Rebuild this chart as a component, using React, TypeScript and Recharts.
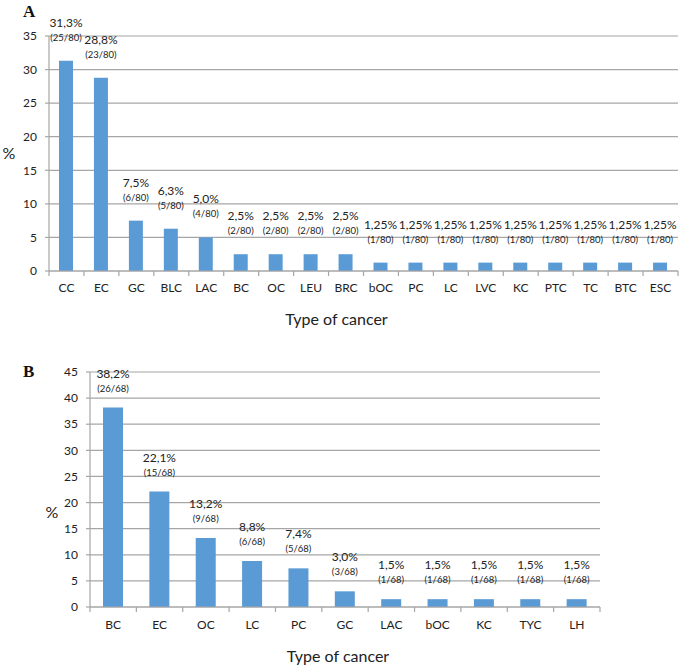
import React from 'react';
import { BarChart, Bar, XAxis, YAxis, CartesianGrid, LabelList } from 'recharts';

const catsA = ['CC', 'EC', 'GC', 'BLC', 'LAC', 'BC', 'OC', 'LEU', 'BRC', 'bOC', 'PC', 'LC', 'LVC', 'KC', 'PTC', 'TC', 'BTC', 'ESC'];
const valsA = [31.3, 28.8, 7.5, 6.3, 5.0, 2.5, 2.5, 2.5, 2.5, 1.25, 1.25, 1.25, 1.25, 1.25, 1.25, 1.25, 1.25, 1.25];
const pctA = ['31,3%', '28,8%', '7,5%', '6,3%', '5,0%', '2,5%', '2,5%', '2,5%', '2,5%', '1,25%', '1,25%', '1,25%', '1,25%', '1,25%', '1,25%', '1,25%', '1,25%', '1,25%'];
const cntA = ['(25/80)', '(23/80)', '(6/80)', '(5/80)', '(4/80)', '(2/80)', '(2/80)', '(2/80)', '(2/80)', '(1/80)', '(1/80)', '(1/80)', '(1/80)', '(1/80)', '(1/80)', '(1/80)', '(1/80)', '(1/80)'];
const ticksA = [0, 5, 10, 15, 20, 25, 30, 35];

const catsB = ['BC', 'EC', 'OC', 'LC', 'PC', 'GC', 'LAC', 'bOC', 'KC', 'TYC', 'LH'];
const valsB = [38.2, 22.1, 13.2, 8.8, 7.4, 3.0, 1.5, 1.5, 1.5, 1.5, 1.5];
const pctB = ['38,2%', '22,1%', '13,2%', '8,8%', '7,4%', '3,0%', '1,5%', '1,5%', '1,5%', '1,5%', '1,5%'];
const cntB = ['(26/68)', '(15/68)', '(9/68)', '(6/68)', '(5/68)', '(3/68)', '(1/68)', '(1/68)', '(1/68)', '(1/68)', '(1/68)'];
const ticksB = [0, 5, 10, 15, 20, 25, 30, 35, 40, 45];

const rowsA = catsA.map((c, i) => ({ cat: c, v: valsA[i], pct: pctA[i], cnt: cntA[i] }));
const rowsB = catsB.map((c, i) => ({ cat: c, v: valsB[i], pct: pctB[i], cnt: cntB[i] }));

const FONT = 'Lato, "Open Sans", sans-serif';
const TXT = '#222';
const GRID = '#a6a6a6';
const BAR = '#5B9BD5';

function makeTick(cats: string[], band: number, dyText: number) {
  return (props: any) => {
    const { x, y, payload, index } = props;
    const half = payload && typeof payload.offset === 'number' && payload.offset > 0 ? payload.offset : band / 2;
    const isLast = index === cats.length - 1 || (payload && payload.value === cats[cats.length - 1]);
    return (
      <g>
        <line x1={x - half} x2={x - half} y1={y} y2={y + 5} stroke={GRID} strokeWidth={1.2} />
        {isLast ? <line x1={x + half} x2={x + half} y1={y} y2={y + 5} stroke={GRID} strokeWidth={1.2} /> : null}
        <text x={x} y={y + dyText} textAnchor="middle" fontSize={12} fontFamily={FONT} fill={TXT}>
          {payload.value}
        </text>
      </g>
    );
  };
}

function makeLabel(dy: number, size: number) {
  return (p: any) => (
    <text x={Number(p.x) + Number(p.width) / 2} y={Number(p.y) - dy} textAnchor="middle" fontSize={size} fontFamily={FONT} fill={TXT}>
      {p.value}
    </text>
  );
}

export default function App() {
  const wA = 685, hA = 335;
  const wB = 685, hB = 332;
  const bandA = (wA - 49 - 7) / catsA.length;
  const bandB = (wB - 90 - 85) / catsB.length;
  return (
    <div style={{ position: 'absolute', left: 0, top: 0, width: 685, height: 672, background: '#fff' }}>
      <div style={{ position: 'absolute', left: 0, top: 0 }}>
        <BarChart width={wA} height={hA} data={rowsA} margin={{ top: 36, right: 7, left: 0, bottom: 0 }}>
          <CartesianGrid vertical={false} stroke={GRID} strokeWidth={1.2} />
          <XAxis
            dataKey="cat"
            height={64}
            axisLine={{ stroke: GRID, strokeWidth: 1.2 }}
            tickLine={false}
            tickSize={0}
            tickMargin={0}
            interval={0}
            tick={makeTick(catsA, bandA, 21)}
            label={{
              content: (p: any) => (
                <text x={p.viewBox.x + p.viewBox.width / 2 - 27} y={p.viewBox.y + 54} textAnchor="middle" fontSize={16} fontFamily={FONT} fill={TXT}>
                  Type of cancer
                </text>
              ),
            }}
          />
          <YAxis
            width={49}
            domain={[0, 35]}
            ticks={ticksA}
            interval={0}
            axisLine={{ stroke: GRID, strokeWidth: 1.2 }}
            tickLine={{ stroke: GRID, strokeWidth: 1.2 }}
            tickSize={4}
            tickMargin={8}
            tick={{ fontSize: 12, fontFamily: FONT, fill: TXT }}
            label={{
              content: (p: any) => (
                <text x={p.viewBox.x + 9} y={p.viewBox.y + p.viewBox.height / 2 + 5} textAnchor="middle" fontSize={16} fontFamily={FONT} fill={TXT}>
                  %
                </text>
              ),
            }}
          />
          <Bar dataKey="v" fill={BAR} barSize={14} isAnimationActive={false}>
            <LabelList dataKey="pct" content={makeLabel(34, 12)} />
            <LabelList dataKey="cnt" content={makeLabel(20, 9.5)} />
          </Bar>
        </BarChart>
        <svg style={{ position: 'absolute', left: 0, top: 0 }} width={60} height={30}>
          <text x={23} y={17} fontFamily="'Liberation Serif', 'Times New Roman', serif" fontWeight="bold" fontSize={17} fill="#111">A</text>
        </svg>
      </div>
      <div style={{ position: 'absolute', left: 0, top: 340 }}>
        <BarChart width={wB} height={hB} data={rowsB} margin={{ top: 32, right: 85, left: 0, bottom: 0 }}>
          <CartesianGrid vertical={false} stroke={GRID} strokeWidth={1.2} />
          <XAxis
            dataKey="cat"
            height={65}
            axisLine={{ stroke: GRID, strokeWidth: 1.2 }}
            tickLine={false}
            tickSize={0}
            tickMargin={0}
            interval={0}
            tick={makeTick(catsB, bandB, 22)}
            label={{
              content: (p: any) => (
                <text x={p.viewBox.x + p.viewBox.width / 2 - 7} y={p.viewBox.y + 55} textAnchor="middle" fontSize={16} fontFamily={FONT} fill={TXT}>
                  Type of cancer
                </text>
              ),
            }}
          />
          <YAxis
            width={90}
            domain={[0, 45]}
            ticks={ticksB}
            interval={0}
            axisLine={{ stroke: GRID, strokeWidth: 1.2 }}
            tickLine={{ stroke: GRID, strokeWidth: 1.2 }}
            tickSize={4}
            tickMargin={8}
            tick={{ fontSize: 12, fontFamily: FONT, fill: TXT }}
            label={{
              content: (p: any) => (
                <text x={p.viewBox.x + 52} y={p.viewBox.y + p.viewBox.height / 2 + 28} textAnchor="middle" fontSize={16} fontFamily={FONT} fill={TXT}>
                  %
                </text>
              ),
            }}
          />
          <Bar dataKey="v" fill={BAR} barSize={20} isAnimationActive={false}>
            <LabelList dataKey="pct" content={makeLabel(30, 12)} />
            <LabelList dataKey="cnt" content={makeLabel(16, 9.5)} />
          </Bar>
        </BarChart>
        <svg style={{ position: 'absolute', left: 0, top: 0 }} width={60} height={50}>
          <text x={23} y={37} fontFamily="'Liberation Serif', 'Times New Roman', serif" fontWeight="bold" fontSize={17} fill="#111">B</text>
        </svg>
      </div>
    </div>
  );
}
